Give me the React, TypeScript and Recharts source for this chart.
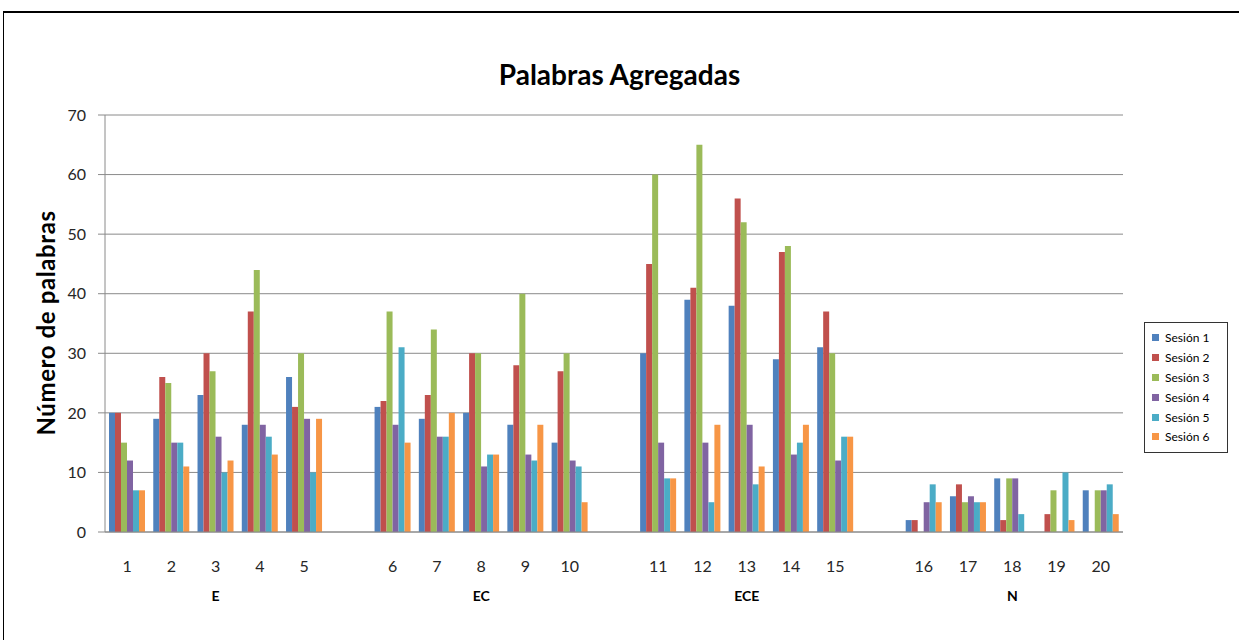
import React from 'react'
import { BarChart, Bar, XAxis, YAxis, CartesianGrid } from 'recharts'

// categorías (participantes), con huecos '' entre grupos
const categories = ['1', '2', '3', '4', '5', '', '6', '7', '8', '9', '10', '', '11', '12', '13', '14', '15', '', '16', '17', '18', '19', '20']
const groupLabels = ['E', 'EC', 'ECE', 'N']

const sesion1 = [20, 19, 23, 18, 26, null, 21, 19, 20, 18, 15, null, 30, 39, 38, 29, 31, null, 2, 6, 9, 0, 7]
const sesion2 = [20, 26, 30, 37, 21, null, 22, 23, 30, 28, 27, null, 45, 41, 56, 47, 37, null, 2, 8, 2, 3, 0]
const sesion3 = [15, 25, 27, 44, 30, null, 37, 34, 30, 40, 30, null, 60, 65, 52, 48, 30, null, 0, 5, 9, 7, 7]
const sesion4 = [12, 15, 16, 18, 19, null, 18, 16, 11, 13, 12, null, 15, 15, 18, 13, 12, null, 5, 6, 9, 0, 7]
const sesion5 = [7, 15, 10, 16, 10, null, 31, 16, 13, 12, 11, null, 9, 5, 8, 15, 16, null, 8, 5, 3, 10, 8]
const sesion6 = [7, 11, 12, 13, 19, null, 15, 20, 13, 18, 5, null, 9, 18, 11, 18, 16, null, 5, 5, 0, 2, 3]

const yTicks = [0, 10, 20, 30, 40, 50, 60, 70]

const series = [
  { key: 's1', name: 'Sesión 1', values: sesion1, color: '#4F81BD' },
  { key: 's2', name: 'Sesión 2', values: sesion2, color: '#C0504D' },
  { key: 's3', name: 'Sesión 3', values: sesion3, color: '#9BBB59' },
  { key: 's4', name: 'Sesión 4', values: sesion4, color: '#8064A2' },
  { key: 's5', name: 'Sesión 5', values: sesion5, color: '#4BACC6' },
  { key: 's6', name: 'Sesión 6', values: sesion6, color: '#F79646' }
]

const data = categories.map((cat, i) => {
  const row: any = { idx: i, cat }
  series.forEach(s => { row[s.key] = s.values[i] })
  return row
})

const FONT = 'Lato, "Noto Sans", sans-serif'

// etiqueta de categoría + etiqueta de grupo debajo
const CategoryTick = (props: any) => {
  const { x, y, payload } = props
  const i = payload.value as number
  const g = i % 6 === 2 ? groupLabels[Math.floor(i / 6)] : ''
  return (
    <g>
      <text x={x} y={y + 25} textAnchor="middle" dominantBaseline="central" fill="#262626" fontSize={16} fontFamily={FONT}>
        {categories[i]}
      </text>
      {g && (
        <text x={x} y={y + 55} textAnchor="middle" dominantBaseline="central" fill="#000" fontSize={14} fontWeight="bold" fontFamily={FONT}>
          {g}
        </text>
      )}
    </g>
  )
}

const LegendBox = () => (
  <div style={{ position: 'absolute', left: 1144, top: 322, border: '1px solid #333', background: '#fff', width: 84, padding: '5px 0', boxSizing: 'border-box' }}>
    {series.map(s => (
      <div key={s.key} style={{ display: 'flex', alignItems: 'center', height: 19.8, paddingLeft: 7 }}>
        <span style={{ width: 7, height: 7, background: s.color, display: 'inline-block', marginRight: 6 }} />
        <span style={{ fontSize: 12, fontFamily: FONT, color: '#000' }}>{s.name}</span>
      </div>
    ))}
  </div>
)

export default function App() {
  return (
    <div style={{ position: 'absolute', left: 0, top: 0, width: 1239, height: 640, background: '#fff', overflow: 'hidden' }}>
      <div style={{ position: 'absolute', left: 3, top: 11, width: 1300, height: 700, borderTop: '2px solid #000', borderLeft: '1px solid #000' }} />
      <div style={{ position: 'absolute', left: 0, width: 1239, top: 57, textAlign: 'center', fontFamily: FONT, fontWeight: 'bold', fontSize: 28, color: '#000' }}>
        Palabras Agregadas
      </div>
      <div style={{ position: 'absolute', left: 45, top: 323, width: 0, height: 0 }}>
        <div style={{ position: 'absolute', transform: 'translate(-50%, -50%) rotate(-90deg)', whiteSpace: 'nowrap', fontFamily: FONT, fontWeight: 'bold', fontSize: 24, letterSpacing: 0.6, color: '#000' }}>
          Número de palabras
        </div>
      </div>
      <div style={{ position: 'absolute', left: 0, top: 0 }}>
        <BarChart width={1239} height={640} data={data} margin={{ top: 115, right: 116, bottom: 38, left: 0 }} barCategoryGap={4} barGap={0}>
          <CartesianGrid vertical={false} stroke="#8a8a8a" />
          <XAxis dataKey="idx" type="category" interval={0} tick={<CategoryTick />} tickLine={false} axisLine={{ stroke: '#8a8a8a' }} height={70} />
          <YAxis domain={[0, 70]} ticks={yTicks} width={105} tickSize={7} tickMargin={12} axisLine={{ stroke: '#8a8a8a' }} tickLine={{ stroke: '#8a8a8a' }} tick={{ fill: '#262626', fontSize: 16, fontFamily: FONT }} />
          {series.map(s => (
            <Bar key={s.key} dataKey={s.key} name={s.name} fill={s.color} isAnimationActive={false} />
          ))}
        </BarChart>
      </div>
      <LegendBox />
    </div>
  )
}
